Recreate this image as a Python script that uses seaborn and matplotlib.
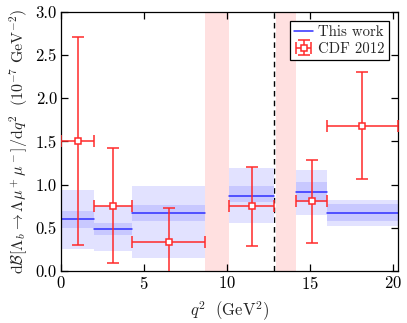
import numpy as np
import pandas as pd
import matplotlib
matplotlib.use("Agg")
import matplotlib.pyplot as plt
import seaborn as sns
from matplotlib.lines import Line2D

# ---- data ----
bin_lo = [0.0, 2.0, 4.3, 10.09, 14.18, 16.0]
bin_hi = [2.0, 4.3, 8.68, 12.86, 16.0, 20.28]
lat_c = [0.60, 0.49, 0.67, 0.87, 0.91, 0.67]
lat_in_lo = [0.50, 0.42, 0.58, 0.80, 0.80, 0.58]
lat_in_hi = [0.69, 0.56, 0.77, 0.98, 1.03, 0.78]
lat_out_lo = [0.26, 0.235, 0.15, 0.56, 0.65, 0.52]
lat_out_hi = [0.94, 0.75, 0.98, 1.19, 1.17, 0.82]

cdf_x = [1.0, 3.15, 6.49, 11.475, 15.09, 18.14]
cdf_xlo = [0.0, 2.0, 4.3, 10.09, 14.18, 16.0]
cdf_xhi = [2.0, 4.3, 8.68, 12.86, 16.0, 20.30]
cdf_y = [1.50, 0.75, 0.34, 0.75, 0.81, 1.68]
cdf_ylo = [0.30, 0.09, -0.05, 0.29, 0.33, 1.06]
cdf_yhi = [2.71, 1.42, 0.73, 1.21, 1.28, 2.30]

veto_regions = [(8.68, 10.09), (12.95, 14.18)]
dashed_x = 12.82

# ---- style ----
sns.set_style("ticks")
plt.rcParams["font.family"] = ["cmr10", "DejaVu Serif"]
plt.rcParams["mathtext.fontset"] = "cm"
plt.rcParams["axes.unicode_minus"] = False
plt.rcParams["axes.formatter.use_mathtext"] = True

fig = plt.figure(figsize=(4.07, 3.23), dpi=100)
ax = fig.add_axes([0.150, 0.161, 0.827, 0.802])

# veto bands
for lo, hi in veto_regions:
    ax.axvspan(lo, hi, color="#ffe0e0", lw=0, zorder=0)
ax.axvline(dashed_x, color="black", ls=(0, (4, 3)), lw=1.0, zorder=1)

# lattice bands
for lo, hi, olo, ohi, ilo, ihi in zip(bin_lo, bin_hi, lat_out_lo, lat_out_hi, lat_in_lo, lat_in_hi):
    ax.fill_between([lo, hi], [olo, olo], [ohi, ohi], color="#e2e2ff", lw=0, zorder=1)
    ax.fill_between([lo, hi], [ilo, ilo], [ihi, ihi], color="#c8c8ff", lw=0, zorder=1.1)

# central lines via seaborn
rows = []
for i, (lo, hi, c) in enumerate(zip(bin_lo, bin_hi, lat_c)):
    rows.append({"q2": lo, "val": c, "bin": i})
    rows.append({"q2": hi, "val": c, "bin": i})
df = pd.DataFrame(rows)
sns.lineplot(data=df, x="q2", y="val", units="bin", estimator=None,
             color="#2f2fff", lw=1.1, ax=ax, zorder=2, legend=False)

# CDF data
cx = np.array(cdf_x); cy = np.array(cdf_y)
xerr = [cx - np.array(cdf_xlo), np.array(cdf_xhi) - cx]
yerr = [cy - np.array(cdf_ylo), np.array(cdf_yhi) - cy]
eb = ax.errorbar(cx, cy, xerr=xerr, yerr=yerr, fmt="s", color="#ff2a2a",
                 ecolor="#ff2a2a", elinewidth=1.1, capsize=4, capthick=1.1,
                 ms=5, mfc="white", mec="#ff2a2a", mew=1.1, zorder=3,
                 label="CDF 2012")

h_lat = Line2D([], [], color="#2f2fff", lw=1.1)
leg = ax.legend([h_lat, eb], ["This work", "CDF 2012"], loc="upper right",
                fontsize=10.7, frameon=True, fancybox=False, framealpha=1,
                edgecolor="black", handlelength=1.3, handletextpad=0.3,
                borderpad=0.3, labelspacing=0.2, borderaxespad=0.6)
leg.get_frame().set_linewidth(0.9)

ax.set_xlim(0, 20.28)
ax.set_ylim(0, 3.0)
ax.set_xticks([0, 5, 10, 15, 20])
ax.set_yticks([0.0, 0.5, 1.0, 1.5, 2.0, 2.5, 3.0])
ax.set_yticklabels(["0.0", "0.5", "1.0", "1.5", "2.0", "2.5", "3.0"])
ax.tick_params(direction="in", top=True, right=True, length=5, width=0.9,
               labelsize=12, colors="black", pad=3)
for s in ax.spines.values():
    s.set_linewidth(0.9)
    s.set_color("black")

ax.set_xlabel(r"$q^2\ \ (\mathrm{GeV}^2)$", fontsize=12, labelpad=5)
ax.set_ylabel(r"$\mathrm{d}\mathcal{B}[\Lambda_b\to\Lambda\mu^+\mu^-]/\mathrm{d}q^2\ \ (10^{-7}\ \mathrm{GeV}^{-2})$",
              fontsize=11.5, labelpad=4)

fig.savefig("out.png", dpi=100)
